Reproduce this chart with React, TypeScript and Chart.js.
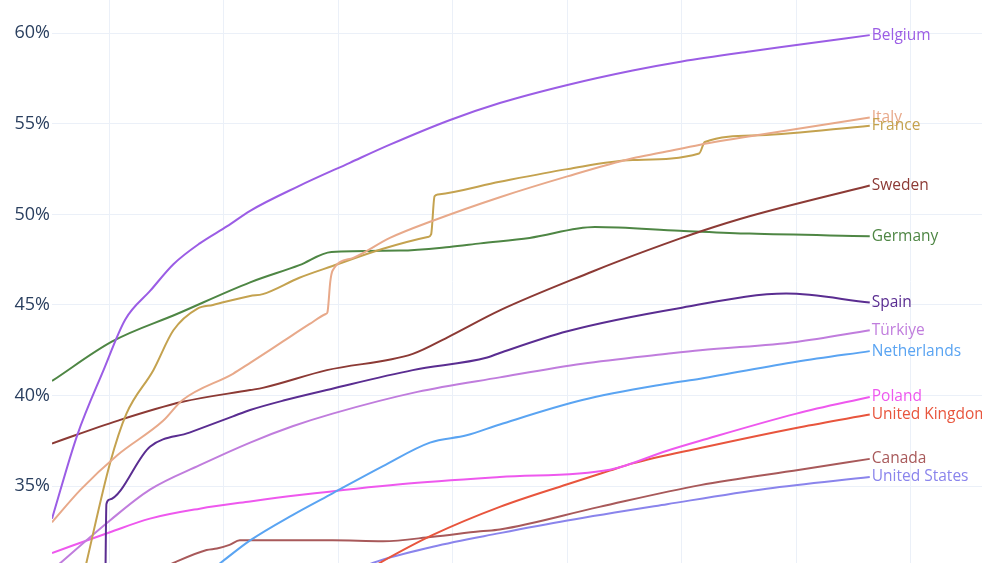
import React, { useEffect, useRef } from "react";
import { Chart, registerables } from "chart.js";

Chart.register(...registerables);

type P = [number, number];

// [year, share %]
const belgium: P[] = [[2025, 33.2], [2027.2, 37.8], [2029.5, 41.4], [2031.4, 44.2], [2033.6, 45.8], [2035.6, 47.25], [2037.9, 48.4], [2040.3, 49.35], [2042.3, 50.2], [2046.5, 51.55], [2051, 52.85], [2054.5, 53.85], [2059.7, 55.2], [2064.1, 56.15], [2070, 57.15], [2075.7, 57.95], [2080, 58.45], [2085.9, 59.0], [2090, 59.35], [2096.4, 59.9]];
const italy: P[] = [[2025, 33.0], [2027.5, 34.8], [2030.7, 36.7], [2034.7, 38.6], [2036.4, 39.75], [2040.8, 41.2], [2042.3, 41.8], [2045.2, 43.0], [2047.5, 43.95], [2048.9, 44.5], [2049.05, 44.6], [2049.3, 46.3], [2049.5, 46.9], [2051.3, 47.6], [2054.5, 48.7], [2058.25, 49.65], [2064.1, 50.95], [2070, 52.1], [2075.7, 53.1], [2078.1, 53.4], [2081.6, 53.85], [2086.8, 54.4], [2096.4, 55.35]];
const france: P[] = [[2025, 22.5], [2028.0, 30.75], [2030.06, 36.25], [2031.5, 39.0], [2033.85, 41.4], [2035.6, 43.6], [2037.7, 44.8], [2039.05, 45.0], [2042.3, 45.5], [2043.4, 45.6], [2046.6, 46.5], [2049.5, 47.15], [2053.9, 48.1], [2057.8, 48.75], [2058.1, 48.9], [2058.4, 51.0], [2058.7, 51.1], [2064.1, 51.8], [2070, 52.5], [2075.7, 53.0], [2081.5, 53.36], [2082.0, 54.0], [2086.8, 54.37], [2096.4, 54.9]];
const sweden: P[] = [[2025, 37.35], [2030.7, 38.6], [2036.4, 39.65], [2042.3, 40.3], [2043.4, 40.42], [2049.0, 41.4], [2056.5, 42.3], [2059.5, 43.2], [2064.1, 44.7], [2072.2, 46.85], [2074.6, 47.45], [2079.8, 48.66], [2081.8, 49.1], [2085.9, 49.9], [2096.4, 51.6]];
const germany: P[] = [[2025, 40.8], [2030.3, 43.0], [2035.9, 44.5], [2042.3, 46.25], [2046.6, 47.2], [2049.4, 47.93], [2055.4, 48.0], [2059.7, 48.2], [2062.4, 48.4], [2066.7, 48.7], [2072.4, 49.3], [2079.8, 49.1], [2085.9, 48.94], [2096.4, 48.8]];
const spain: P[] = [[2025, 26.0], [2029.6, 27.0], [2029.75, 34.0], [2030.0, 34.25], [2033.55, 37.17], [2037.0, 37.95], [2040.8, 38.85], [2042.3, 39.2], [2045.2, 39.72], [2049.3, 40.35], [2056.5, 41.4], [2063.0, 42.1], [2064.1, 42.35], [2070, 43.55], [2080, 44.85], [2089.1, 45.63], [2096.4, 45.13]];
const turkiye: P[] = [[2025, 30.35], [2030.06, 33.1], [2033.55, 34.8], [2037.9, 36.15], [2042.3, 37.4], [2046, 38.3], [2049.5, 39.0], [2056.9, 40.2], [2064.1, 41.0], [2071.3, 41.75], [2078.7, 42.3], [2081.6, 42.5], [2090.0, 42.96], [2096.4, 43.6]];
const netherlands: P[] = [[2025, 22.0], [2030, 25.5], [2035, 28.5], [2039.7, 30.75], [2042.3, 32.0], [2046, 33.4], [2049.5, 34.6], [2053.9, 36.1], [2058.0, 37.4], [2061.2, 37.8], [2064.1, 38.4], [2071.3, 39.75], [2078.7, 40.65], [2081.6, 40.93], [2090.0, 41.86], [2096.4, 42.45]];
const poland: P[] = [[2025, 31.3], [2030.06, 32.45], [2033.55, 33.2], [2037.9, 33.75], [2042.3, 34.15], [2046.6, 34.5], [2055.4, 35.1], [2064.1, 35.5], [2073.7, 35.9], [2078.7, 36.95], [2081.6, 37.5], [2090.0, 39.0], [2096.4, 39.92]];
const unitedKingdom: P[] = [[2025, 20.0], [2040, 25.5], [2050, 29.4], [2053.6, 30.75], [2058.25, 32.3], [2064.1, 33.85], [2070, 35.1], [2073.7, 35.85], [2075.7, 36.25], [2081.6, 37.1], [2090.3, 38.25], [2096.4, 38.95]];
const canada: P[] = [[2025, 27.5], [2035.6, 30.75], [2038.5, 31.47], [2039.4, 31.55], [2040.5, 31.75], [2041.4, 32.0], [2049.5, 32.0], [2053.9, 31.95], [2058.25, 32.2], [2062.4, 32.5], [2064.1, 32.6], [2072.8, 33.85], [2081.6, 35.05], [2090.3, 35.9], [2096.4, 36.5]];
const unitedStates: P[] = [[2025, 22.0], [2040, 27.0], [2050, 29.9], [2053.0, 30.75], [2058.25, 31.65], [2064.1, 32.4], [2070, 33.1], [2078.7, 34.0], [2087.4, 34.85], [2096.4, 35.5]];

const countries = ["Belgium", "Italy", "France", "Sweden", "Germany", "Spain", "Türkiye", "Netherlands", "Poland", "United Kingdom", "Canada", "United States"];
const seriesData: P[][] = [belgium, italy, france, sweden, germany, spain, turkiye, netherlands, poland, unitedKingdom, canada, unitedStates];
const colors = ["#9b5de5", "#e8a98a", "#c4a24f", "#8c3a35", "#4e8644", "#5a2d91", "#c07ddd", "#5aa4f2", "#ee58ee", "#e8553d", "#a8595a", "#8a84ec"];

const yTicks = [35, 40, 45, 50, 55, 60];
const xGridYears = [2030, 2040, 2050, 2060, 2070, 2080, 2090, 2100];

const endLabels = {
  id: "endLabels",
  afterDatasetsDraw(chart: any) {
    const { ctx, chartArea } = chart;
    ctx.save();
    ctx.beginPath();
    ctx.rect(chartArea.left, chartArea.top, chartArea.right - chartArea.left, chartArea.bottom - chartArea.top);
    ctx.clip();
    ctx.font = '15.5px "Open Sans"';
    ctx.textAlign = "left";
    ctx.textBaseline = "middle";
    chart.data.datasets.forEach((ds: any, i: number) => {
      const meta = chart.getDatasetMeta(i);
      const pt = meta.data[meta.data.length - 1];
      if (!pt) return;
      ctx.fillStyle = ds.borderColor;
      ctx.fillText(ds.label, pt.x + 2, pt.y);
    });
    ctx.restore();
  },
};

export default function App() {
  const ref = useRef<HTMLCanvasElement>(null);

  useEffect(() => {
    if (!ref.current) return;
    const chart = new Chart(ref.current, {
      type: "line",
      data: {
        datasets: seriesData.map((s, i) => ({
          label: countries[i],
          data: s.map(([x, y]) => ({ x, y })),
          borderColor: colors[i],
          backgroundColor: colors[i],
          borderWidth: 2,
          pointRadius: 0,
          cubicInterpolationMode: "monotone" as const,
          borderJoinStyle: "round" as const,
          fill: false,
        })),
      },
      options: {
        animation: false,
        responsive: false,
        devicePixelRatio: 1,
        layout: { padding: { left: 0, right: 18, top: 0, bottom: 0 } },
        plugins: { legend: { display: false }, tooltip: { enabled: false } },
        scales: {
          x: {
            type: "linear",
            min: 2025,
            max: 2106.2,
            afterBuildTicks: (scale: any) => {
              scale.ticks = xGridYears.map((v) => ({ value: v }));
            },
            ticks: { display: false },
            grid: { color: "#ebf0f8", lineWidth: 1, drawTicks: false },
            border: { display: false },
          },
          y: {
            type: "linear",
            min: 30.75,
            max: 61.84,
            afterBuildTicks: (scale: any) => {
              scale.ticks = yTicks.map((v) => ({ value: v }));
            },
            afterFit: (scale: any) => {
              scale.width = 52;
              scale.paddingTop = 0;
              scale.paddingBottom = 0;
            },
            ticks: {
              padding: 2,
              color: "#2a3f5f",
              font: { family: '"Open Sans"', size: 18 },
              callback: (v: any) => `${v}%`,
            },
            grid: { color: "#ebf0f8", lineWidth: 1, drawTicks: false },
            border: { display: false },
          },
        },
      },
      plugins: [endLabels],
    });
    return () => chart.destroy();
  }, []);

  return (
    <div style={{ position: "absolute", left: 0, top: 0, width: 1000, height: 563, background: "#ffffff" }}>
      <canvas ref={ref} width={1000} height={563} style={{ display: "block" }} />
    </div>
  );
}
